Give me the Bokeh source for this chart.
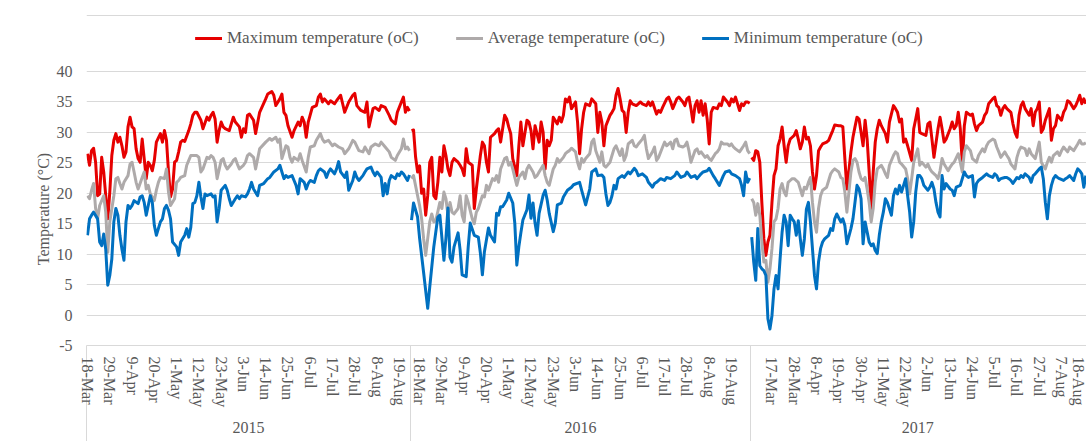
from bokeh.plotting import figure
from bokeh.models import (Range1d, LinearAxis, FixedTicker, Grid, Legend, LegendItem, Span)
from bokeh.embed import file_html
from bokeh.resources import INLINE

# ---------------- data ----------------
YEARS = ["2015", "2016", "2017"]
YEAR_DAYS = [160, 168, 165]          # number of daily records per year (categories)
FIRST_LABEL_DAY = [0, 4, 10]         # day index of the first labelled date in each year
LABEL_STEP = 11
LABELS_2015 = ["18-Mar", "29-Mar", "9-Apr", "20-Apr", "1-May", "12-May", "23-May", "3-Jun",
               "14-Jun", "25-Jun", "6-Jul", "17-Jul", "28-Jul", "8-Aug", "19-Aug"]
LABELS_2016 = ["18-Mar", "29-Mar", "9-Apr", "20-Apr", "1-May", "12-May", "23-May", "3-Jun",
               "14-Jun", "25-Jun", "6-Jul", "17-Jul", "28-Jul", "8-Aug", "19-Aug"]
LABELS_2017 = ["17-Mar", "28-Mar", "8-Apr", "19-Apr", "30-Apr", "11-May", "22-May", "2-Jun",
               "13-Jun", "24-Jun", "5-Jul", "16-Jul", "27-Jul", "7-Aug", "18-Aug"]
Y_TICKS = [-5, 0, 5, 10, 15, 20, 25, 30, 35, 40]

# (day index within the year, temperature)
MAX_2015 = [(0,26.5),(1,24.6),(2,27.0),(3,27.4),(4,25.1),(5,19.6),(6,19.9),(7,25.9),(8,23.5),(9,19.6),(10,15.8),(11,20.2),(12,26.2),(13,28.7),(14,29.8),(15,28.4),(16,29.2),(17,27.8),(18,25.9),(19,26.8),(20,30.9),(21,32.5),(22,30.9),(23,30.6),(24,27.3),(25,25.7),(26,25.1),(27,28.9),(28,25.7),(29,22.4),(30,25.1),(31,24.6),(32,23.7),(33,25.4),(34,28.4),(36,29.8),(37,28.4),(38,30.3),(39,28.7),(40,23.5),(41,19.4),(42,20.7),(43,25.1),(44,25.4),(45,26.8),(46,28.4),(47,28.7),(48,28.5),(50,30.3),(51,31.4),(52,32.8),(53,33.3),(54,33.3),(56,32.0),(57,30.6),(59,32.5),(60,32.0),(61,32.8),(62,33.3),(63,32.2),(64,28.4),(65,30.3),(66,31.7),(67,30.9),(68,30.6),(70,30.3),(71,31.4),(72,32.5),(73,31.7),(75,30.9),(76,29.2),(77,30.6),(78,30.0),(79,32.8),(80,33.0),(82,32.0),(83,29.8),(85,33.3),(88,35.5),(89,36.3),(91,36.7),(92,36.1),(93,34.4),(95,35.5),(96,36.3),(97,33.3),(98,32.8),(99,31.1),(101,29.2),(102,30.3),(104,31.7),(105,31.1),(106,32.5),(107,31.7),(108,29.2),(109,31.7),(111,34.1),(113,34.4),(114,35.8),(115,36.3),(116,35.0),(117,35.5),(119,34.7),(120,35.2),(122,34.7),(123,35.2),(125,36.1),(126,34.7),(127,33.3),(129,35.0),(131,36.1),(132,36.4),(133,34.4),(135,33.6),(137,33.3),(138,35.0),(139,30.9),(141,33.9),(142,34.1),(144,33.6),(145,34.4),(147,34.1),(149,32.8),(150,32.0),(152,31.4),(153,33.3),(155,35.0),(156,35.8),(157,33.3),(158,34.1),(159,33.5)]
AVG_2015 = [(0,19.6),(1,19.1),(2,20.5),(3,21.6),(4,17.5),(5,15.8),(6,18.0),(8,19.6),(9,16.9),(10,10.3),(11,15.3),(13,19.6),(14,22.4),(15,22.6),(16,21.6),(17,20.7),(18,21.8),(20,22.9),(21,24.8),(22,25.1),(23,23.5),(24,21.8),(25,20.7),(27,22.6),(28,23.5),(29,20.7),(30,21.3),(31,19.9),(33,18.8),(34,20.5),(35,21.8),(36,22.6),(38,22.4),(39,24.0),(40,20.2),(41,18.0),(43,19.1),(44,21.8),(45,22.1),(46,22.6),(48,22.9),(49,24.6),(50,25.4),(51,26.2),(53,26.2),(54,26.2),(55,25.9),(56,23.5),(57,24.0),(59,25.9),(60,25.7),(61,26.2),(62,25.9),(63,25.1),(64,22.4),(66,25.4),(67,25.7),(68,24.6),(69,24.0),(71,24.8),(72,25.4),(73,25.7),(74,24.8),(75,24.0),(77,24.6),(78,25.1),(79,26.2),(80,26.5),(82,25.9),(83,24.0),(85,27.3),(88,28.4),(90,29.0),(91,28.7),(93,29.2),(94,28.4),(95,28.9),(96,25.7),(98,27.8),(99,27.6),(100,25.9),(101,25.1),(102,25.9),(104,25.4),(105,26.5),(106,25.4),(108,23.5),(109,25.9),(110,27.6),(112,27.8),(113,28.7),(115,29.8),(116,28.9),(117,28.4),(119,28.7),(121,27.8),(122,28.1),(124,27.6),(126,27.3),(127,26.5),(129,27.3),(131,28.7),(132,28.4),(134,27.0),(136,26.8),(137,27.6),(139,26.5),(140,27.6),(142,28.1),(144,27.8),(145,28.4),(147,27.6),(149,26.8),(150,25.9),(152,25.4),(153,26.2),(155,27.3),(156,28.9),(157,27.3),(158,27.6),(159,27.0)]
MIN_2015 = [(0,13.1),(1,15.8),(2,16.4),(3,16.9),(5,15.8),(6,12.0),(7,11.4),(8,13.3),(9,10.8),(10,4.9),(11,6.5),(12,9.2),(13,15.3),(14,17.5),(15,16.4),(16,13.1),(17,10.8),(18,9.0),(19,15.3),(20,18.0),(21,17.5),(22,18.0),(23,18.8),(25,18.3),(26,19.4),(27,19.6),(28,18.5),(29,16.4),(31,19.6),(32,18.5),(33,14.7),(34,13.1),(36,15.3),(37,15.8),(38,17.5),(39,18.0),(40,17.2),(41,15.8),(42,12.0),(44,11.2),(45,9.8),(46,12.0),(48,13.1),(49,14.2),(50,12.8),(51,14.4),(52,18.3),(53,18.5),(54,19.6),(55,21.8),(56,19.4),(57,17.5),(58,19.9),(59,19.6),(61,19.9),(62,19.4),(63,19.6),(64,15.3),(65,17.5),(66,20.5),(68,21.3),(69,20.5),(70,19.1),(71,18.0),(73,19.1),(74,19.6),(75,19.1),(76,19.6),(78,19.4),(79,19.9),(80,20.7),(81,21.8),(82,20.7),(84,19.6),(85,21.3),(87,21.6),(89,22.4),(90,22.6),(92,23.5),(94,24.0),(95,24.6),(96,23.5),(97,22.4),(98,22.9),(99,22.6),(101,22.9),(102,22.1),(103,21.3),(104,19.9),(105,22.4),(107,21.8),(108,20.7),(109,21.6),(110,22.1),(112,21.8),(113,22.9),(114,23.7),(115,24.0),(117,23.5),(118,22.6),(119,23.5),(120,24.0),(122,23.2),(123,24.0),(124,25.2),(125,23.5),(127,22.6),(128,23.5),(129,20.5),(131,22.1),(132,23.5),(133,22.6),(134,22.1),(136,22.9),(137,23.5),(138,24.0),(140,24.3),(141,23.5),(142,22.9),(143,23.5),(145,22.6),(146,19.6),(147,21.6),(148,19.9),(149,22.1),(150,22.9),(152,22.4),(153,23.2),(154,22.9),(155,23.5),(156,23.2),(158,22.1),(159,23.0)]

MAX_2016 = [(0,30.3),(1,30.4),(2,26.0),(3,23.5),(4,24.5),(5,20.0),(6,20.7),(7,16.4),(8,19.6),(9,25.1),(10,25.9),(11,19.6),(12,19.1),(13,21.8),(14,25.9),(15,23.5),(16,27.8),(17,26.2),(18,24.0),(19,22.9),(20,25.1),(21,25.7),(23,25.1),(24,24.6),(25,24.0),(26,22.9),(27,27.3),(28,25.1),(30,24.6),(31,17.5),(32,20.7),(33,23.5),(34,26.2),(35,28.4),(36,27.8),(37,25.1),(38,23.5),(39,29.2),(41,29.8),(42,30.3),(43,30.6),(44,28.4),(46,32.8),(47,32.2),(48,30.9),(49,29.8),(50,25.7),(52,22.9),(53,27.8),(54,31.7),(55,27.8),(57,32.0),(58,31.7),(59,30.3),(60,27.3),(61,31.1),(63,28.4),(64,31.7),(65,30.0),(66,24.0),(67,28.7),(68,27.8),(69,28.7),(70,32.5),(72,31.4),(73,32.5),(74,31.7),(75,32.8),(76,35.5),(77,35.0),(78,35.8),(79,33.9),(81,35.0),(82,31.7),(83,26.5),(84,30.6),(85,33.3),(86,34.7),(88,34.4),(89,35.5),(91,34.7),(92,30.0),(93,33.3),(94,31.7),(95,27.8),(96,31.1),(98,32.8),(99,33.3),(100,33.9),(101,36.1),(102,37.2),(103,35.5),(104,33.6),(105,33.3),(106,30.0),(107,33.3),(108,35.2),(109,34.7),(111,34.4),(112,34.7),(113,35.0),(114,34.7),(116,34.4),(117,35.0),(118,34.4),(119,35.0),(121,33.0),(122,33.6),(123,33.3),(124,34.1),(126,35.5),(127,35.8),(128,35.0),(129,33.9),(131,35.5),(132,35.8),(134,35.0),(135,34.4),(136,35.5),(137,35.8),(138,33.9),(139,31.7),(140,34.4),(141,35.2),(142,33.3),(143,35.2),(144,32.8),(145,34.7),(146,32.2),(147,28.1),(148,33.3),(149,34.1),(151,33.9),(152,34.7),(153,34.4),(154,35.8),(156,35.0),(157,34.4),(158,35.5),(159,35.0),(160,35.8),(162,33.6),(163,34.7),(164,34.4),(165,35.0),(166,35.0),(167,34.8)]
AVG_2016 = [(0,22.4),(1,22.9),(3,19.6),(4,18.0),(5,15.8),(6,12.5),(7,9.8),(9,15.3),(10,16.6),(11,15.3),(12,15.5),(14,18.5),(15,17.5),(16,20.2),(17,19.1),(18,16.4),(19,18.5),(20,16.9),(21,16.6),(23,17.5),(24,19.6),(25,16.4),(26,15.3),(27,19.6),(28,18.5),(30,15.8),(31,15.0),(32,16.9),(33,17.5),(35,19.6),(36,19.4),(37,21.3),(38,20.5),(40,22.4),(41,22.1),(42,22.9),(43,21.8),(44,24.0),(46,25.7),(47,25.9),(48,24.6),(49,25.1),(50,24.0),(51,22.6),(52,21.3),(53,22.6),(55,23.5),(56,22.4),(57,24.0),(58,24.6),(60,23.5),(61,22.6),(62,22.9),(63,23.5),(65,24.6),(66,22.9),(67,21.8),(68,21.3),(70,24.0),(71,24.6),(72,25.7),(73,25.1),(75,25.9),(76,26.5),(77,26.8),(78,27.0),(79,27.4),(81,26.8),(82,25.1),(83,24.0),(84,25.7),(85,25.1),(86,25.7),(88,26.5),(89,28.4),(90,28.9),(91,27.0),(93,25.1),(94,26.8),(95,24.6),(96,24.3),(98,25.1),(99,26.2),(100,27.3),(101,27.8),(103,26.2),(104,27.3),(105,25.4),(106,26.2),(107,28.1),(109,28.7),(110,27.8),(111,27.6),(112,28.1),(114,28.9),(115,29.5),(116,27.3),(117,25.7),(119,26.8),(120,27.6),(121,25.4),(122,25.9),(124,27.6),(125,28.4),(126,27.8),(128,28.4),(129,27.3),(130,28.7),(131,28.9),(132,27.8),(134,27.6),(135,27.8),(136,28.4),(137,27.0),(138,25.1),(140,27.0),(141,27.3),(142,26.5),(143,26.8),(145,25.9),(146,26.2),(147,25.7),(148,25.4),(150,26.5),(151,26.8),(152,27.3),(153,28.4),(154,28.1),(156,28.1),(157,27.8),(158,28.1),(159,27.6),(160,27.3),(162,26.8),(163,27.3),(164,27.8),(165,28.4),(166,27.0),(167,26.5)]
MIN_2016 = [(0,15.6),(1,18.4),(3,16.1),(4,12.6),(6,6.9),(8,1.1),(9,4.6),(11,11.2),(13,16.1),(14,16.4),(16,9.0),(17,12.6),(18,17.6),(19,9.5),(20,8.7),(21,11.2),(23,13.5),(24,10.7),(25,6.6),(27,6.3),(28,11.2),(29,15.1),(31,13.1),(33,12.8),(34,10.2),(35,6.6),(36,10.4),(38,14.3),(39,13.1),(41,12.0),(42,16.7),(43,16.4),(44,17.8),(45,17.8),(47,18.9),(48,20.0),(50,18.4),(51,15.1),(52,8.2),(53,11.2),(54,13.5),(55,15.6),(57,17.3),(58,19.7),(59,15.9),(60,18.4),(61,15.1),(62,13.1),(63,16.7),(65,19.7),(66,20.5),(67,18.9),(68,16.7),(70,13.7),(71,15.1),(72,18.1),(74,18.4),(75,19.4),(77,20.5),(79,21.0),(80,21.4),(83,21.8),(84,20.5),(86,18.1),(88,20.7),(89,23.5),(91,24.0),(92,22.9),(94,23.0),(95,22.6),(96,19.9),(97,18.0),(98,18.5),(99,19.6),(100,21.3),(101,20.7),(102,22.4),(104,22.9),(105,22.6),(107,23.5),(108,23.2),(110,24.1),(111,23.7),(112,22.9),(114,23.2),(116,22.6),(117,21.8),(119,21.0),(120,21.6),(121,21.8),(123,22.4),(125,22.1),(126,22.6),(128,22.4),(130,22.9),(131,23.5),(133,22.6),(135,22.9),(136,23.5),(138,22.6),(140,22.9),(141,22.4),(143,23.2),(144,23.5),(146,23.7),(147,24.1),(149,22.9),(150,22.4),(152,21.3),(154,22.9),(155,23.5),(157,23.7),(158,23.2),(160,22.9),(162,22.4),(163,21.3),(164,19.6),(165,23.5),(166,21.8),(167,22.5)]

MAX_2017 = [(0,25.9),(1,25.4),(2,27.0),(3,26.8),(4,25.1),(5,18.5),(6,12.5),(7,9.8),(8,12.0),(9,13.1),(10,18.5),(11,22.9),(12,24.0),(13,27.8),(14,28.9),(15,30.9),(16,27.8),(17,25.1),(18,27.8),(19,28.9),(20,29.2),(21,29.5),(22,30.3),(23,28.9),(24,27.3),(25,28.4),(26,30.9),(27,28.9),(28,29.2),(29,27.8),(30,23.5),(31,20.7),(32,22.9),(33,27.0),(34,27.6),(35,28.1),(37,28.4),(38,28.7),(39,29.5),(40,30.3),(41,31.2),(43,31.1),(44,31.1),(45,30.9),(46,25.7),(47,20.7),(49,26.8),(50,29.2),(51,30.9),(52,32.5),(53,32.2),(54,30.0),(55,27.8),(56,32.0),(57,28.9),(58,23.5),(59,17.5),(60,23.5),(61,28.4),(62,30.6),(63,32.0),(64,31.1),(66,29.8),(67,28.4),(68,31.7),(70,34.4),(71,33.9),(72,33.3),(73,31.7),(74,32.2),(75,28.4),(76,28.9),(77,27.8),(79,25.4),(80,30.6),(81,32.2),(82,33.9),(83,30.0),(84,29.8),(86,29.5),(87,31.4),(88,31.7),(89,28.9),(90,25.9),(92,30.6),(93,32.5),(94,30.6),(95,28.4),(96,28.9),(98,30.6),(99,31.7),(100,30.6),(101,31.1),(102,33.3),(103,30.6),(104,24.8),(105,31.1),(106,33.3),(108,32.8),(109,33.0),(110,31.4),(111,30.3),(112,31.1),(114,31.7),(115,32.8),(116,33.3),(117,34.7),(119,35.5),(120,35.8),(121,34.4),(122,34.1),(123,32.8),(124,33.9),(125,34.4),(126,33.9),(128,33.3),(129,31.4),(130,30.0),(131,29.2),(132,32.8),(133,34.4),(134,35.0),(135,33.9),(137,32.8),(138,33.9),(139,31.1),(140,33.3),(141,33.9),(142,35.0),(143,30.0),(144,30.6),(145,32.0),(147,33.9),(148,28.7),(149,30.6),(150,31.1),(151,32.8),(153,32.0),(154,33.3),(155,33.9),(156,35.2),(157,35.0),(159,33.9),(160,34.4),(161,35.2),(162,36.1),(163,34.7),(164,35.5),(165,34.7)]
AVG_2017 = [(0,19.1),(1,18.5),(2,16.4),(3,18.3),(4,16.4),(5,12.0),(6,8.7),(7,9.0),(8,5.4),(9,7.6),(10,10.9),(11,15.3),(12,15.8),(13,17.5),(14,20.7),(15,21.6),(16,20.2),(17,19.6),(18,21.8),(19,22.1),(20,22.4),(21,22.4),(23,21.8),(24,20.7),(25,19.6),(26,21.0),(27,20.7),(28,21.8),(29,22.6),(30,18.5),(31,15.3),(32,13.6),(33,17.5),(34,19.6),(35,20.5),(37,21.0),(38,22.1),(39,23.2),(40,23.7),(41,24.0),(43,23.5),(44,22.6),(45,22.4),(46,20.2),(47,16.9),(49,23.5),(50,25.4),(51,25.7),(52,25.1),(53,23.5),(54,22.4),(55,22.1),(56,22.6),(57,20.7),(58,18.5),(59,15.3),(60,17.5),(61,21.8),(62,24.0),(64,24.6),(65,24.0),(66,23.2),(67,22.6),(68,24.6),(70,26.2),(71,26.8),(72,26.5),(73,25.1),(74,24.8),(76,24.0),(77,22.4),(78,19.9),(79,22.4),(80,25.1),(81,26.2),(82,27.3),(83,24.6),(84,25.1),(86,24.3),(87,24.8),(88,24.0),(89,23.5),(91,22.9),(92,22.4),(93,23.7),(94,25.7),(95,24.8),(97,23.7),(98,24.3),(99,24.8),(100,25.1),(102,26.5),(103,25.1),(104,23.5),(105,26.8),(106,27.8),(108,27.0),(109,25.7),(110,25.4),(111,25.1),(112,26.2),(114,27.3),(115,26.8),(116,27.8),(117,28.4),(119,28.9),(120,28.7),(121,27.6),(122,26.8),(123,25.9),(125,26.8),(126,26.2),(127,25.7),(128,24.8),(130,24.0),(131,25.9),(132,27.0),(133,27.6),(135,27.3),(136,26.2),(137,27.3),(138,26.5),(140,25.7),(141,27.0),(142,28.4),(143,25.1),(145,24.0),(146,25.1),(147,25.9),(148,25.1),(149,26.2),(151,26.8),(152,26.2),(153,27.0),(154,27.6),(156,26.8),(157,27.6),(158,27.3),(159,27.0),(161,28.1),(162,28.7),(163,28.1),(164,28.1),(165,28.3)]
MIN_2017 = [(0,12.8),(1,8.7),(2,5.7),(3,14.2),(4,8.1),(5,7.6),(6,7.3),(7,6.5),(8,-0.6),(9,-2.3),(10,-0.1),(11,4.3),(12,6.5),(13,4.3),(14,9.2),(15,13.6),(16,16.4),(17,15.3),(18,11.4),(19,16.4),(20,15.8),(21,15.3),(22,13.1),(23,15.5),(24,12.5),(25,9.8),(26,12.5),(27,17.4),(28,18.5),(29,15.3),(30,10.9),(31,6.5),(32,4.3),(33,8.7),(34,10.9),(35,12.0),(36,12.5),(38,13.1),(39,14.2),(40,13.9),(41,15.8),(42,16.6),(44,15.3),(45,15.8),(46,14.7),(47,11.7),(49,14.2),(50,15.8),(51,18.5),(52,21.3),(53,20.7),(54,19.1),(55,11.7),(56,15.3),(58,12.0),(59,11.4),(60,11.7),(61,10.6),(62,10.1),(63,13.1),(64,15.3),(65,16.9),(66,19.1),(67,18.5),(69,16.4),(70,19.6),(71,20.7),(72,19.9),(73,21.3),(74,20.2),(76,22.4),(77,19.6),(78,16.9),(79,12.8),(80,15.3),(81,20.2),(82,22.9),(83,22.9),(84,22.4),(85,21.3),(87,20.5),(88,21.0),(89,21.8),(90,20.7),(91,18.5),(92,16.9),(93,16.1),(94,22.9),(95,20.7),(96,21.6),(98,20.7),(99,20.5),(100,19.6),(101,21.0),(103,21.3),(104,22.4),(105,23.5),(106,22.9),(107,22.6),(109,22.9),(110,19.4),(111,21.6),(112,22.1),(114,22.6),(115,22.9),(116,23.2),(117,22.9),(119,22.6),(120,23.2),(121,22.9),(122,22.1),(123,22.4),(125,22.6),(126,22.6),(127,22.4),(128,22.1),(129,21.6),(131,22.6),(132,22.4),(133,22.9),(134,22.6),(135,23.2),(137,22.6),(138,21.8),(139,22.9),(140,23.2),(142,24.0),(143,24.3),(144,22.4),(145,18.5),(146,15.8),(147,19.6),(148,21.3),(149,22.4),(150,22.9),(151,22.6),(152,22.4),(154,22.1),(155,22.4),(156,22.6),(157,22.9),(159,22.1),(160,23.2),(161,24.0),(162,23.7),(163,23.2),(164,21.0),(165,22.9)]

SERIES = [
    ("Maximum temperature (oC)", "#E60000", [MAX_2015, MAX_2016, MAX_2017]),
    ("Average temperature (oC)", "#AEAAAA", [AVG_2015, AVG_2016, AVG_2017]),
    ("Minimum temperature (oC)", "#0070C0", [MIN_2015, MIN_2016, MIN_2017]),
]
YEAR_LABELS = [LABELS_2015, LABELS_2016, LABELS_2017]

# ---------------- styling / geometry ----------------
FONT = "Liberation Serif"
TXT = "#595959"
GRID = "#D9D9D9"
W, H = 1086, 441
LEFT, BOTTOM = 86, 96            # plot-area borders in pixels
GRID_TOP = 71                    # pixel row of the 40 gridline
FRAME_H = H - BOTTOM             # frame reaches the top of the canvas (holds the legend)
PX_PER_UNIT = (H - BOTTOM - GRID_TOP) / 45.0
Y_END = 40 + GRID_TOP / PX_PER_UNIT
PX_PER_DAY = 2.025

# approximate glyph widths (em) of the serif face, used to centre rotated labels
CHAR_EM = {"0": .5, "1": .5, "2": .5, "3": .5, "4": .5, "5": .5, "6": .5, "7": .5, "8": .5,
           "9": .5, "-": .333, "M": .889, "a": .444, "r": .333, "A": .722, "p": .5, "y": .5,
           "J": .389, "u": .5, "n": .5, "l": .278, "g": .5}


def centred(label, longest):
    w = sum(CHAR_EM.get(c, .5) for c in label)
    pad = int(round((longest - w) / 2 / 0.25))
    return label + "\u00a0" * pad


offsets = [0, YEAR_DAYS[0], YEAR_DAYS[0] + YEAR_DAYS[1]]
x_end = -0.5 + (W - LEFT) / PX_PER_DAY

p = figure(width=W, height=H, output_backend="svg", toolbar_location=None,
           x_range=Range1d(-0.5, x_end), y_range=Range1d(-5, Y_END),
           x_axis_type=None, y_axis_type=None,
           min_border_left=LEFT, min_border_right=0, min_border_top=0,
           min_border_bottom=BOTTOM)
p.outline_line_color = None
p.background_fill_color = "white"
p.border_fill_color = "white"

# y axis; the title is padded so that it sits centred on the -5..40 span
frame_mid = FRAME_H / 2.0
grid_mid = GRID_TOP + (FRAME_H - GRID_TOP) / 2.0
title_pad = int(round(2 * (grid_mid - frame_mid) / 4.0))
yticker = FixedTicker(ticks=Y_TICKS)
yaxis = LinearAxis(ticker=yticker, axis_label="Temperature (°C)" + "\u00a0" * title_pad)
yaxis.major_label_overrides = {-5: "-5"}
yaxis.axis_line_color = None
yaxis.major_tick_line_color = None
yaxis.minor_tick_line_color = None
yaxis.major_tick_out = 0
yaxis.major_tick_in = 0
yaxis.major_label_standoff = 14
yaxis.major_label_text_font = FONT
yaxis.major_label_text_font_size = "16px"
yaxis.major_label_text_color = TXT
yaxis.axis_label_text_font = FONT
yaxis.axis_label_text_font_size = "16px"
yaxis.axis_label_text_font_style = "normal"
yaxis.axis_label_text_color = TXT
yaxis.axis_label_standoff = 2
p.add_layout(yaxis, "left")
p.add_layout(Grid(dimension=1, ticker=yticker, grid_line_color=GRID, grid_line_width=1))

# top edge of the chart area
p.add_layout(Span(location=40 + (GRID_TOP - 15) / PX_PER_UNIT, dimension="width",
                  line_color=GRID, line_width=1))

# date axis (inner level of the category axis)
all_labels = LABELS_2015 + LABELS_2016 + LABELS_2017
longest = max(sum(CHAR_EM.get(c, .5) for c in s) for s in all_labels)
tick_pos, overrides = [], {}
for k in range(3):
    for n, lab in enumerate(YEAR_LABELS[k]):
        pos = offsets[k] + FIRST_LABEL_DAY[k] + LABEL_STEP * n
        tick_pos.append(pos)
        overrides[pos] = centred(lab, longest)
separators = [offsets[k] - 0.5 for k in range(3)]
dax = LinearAxis(ticker=FixedTicker(ticks=tick_pos, minor_ticks=separators))
dax.major_label_overrides = overrides
dax.major_label_orientation = "vertical"
dax.major_tick_line_color = None
dax.major_tick_in = 0
dax.major_tick_out = 0
dax.minor_tick_in = 0
dax.minor_tick_out = BOTTOM
dax.minor_tick_line_color = GRID
dax.axis_line_color = GRID
dax.major_label_standoff = 11 - BOTTOM
dax.major_label_text_font = FONT
dax.major_label_text_font_size = "16px"
dax.major_label_text_color = TXT
p.add_layout(dax, "below")

# year axis (outer level)
centers = [offsets[k] - 0.5 + YEAR_DAYS[k] / 2 for k in range(3)]
yax = LinearAxis(ticker=FixedTicker(ticks=centers, minor_ticks=[]))
yax.major_label_overrides = {c: YEARS[k] for k, c in enumerate(centers)}
yax.axis_line_color = None
yax.major_tick_line_color = None
yax.minor_tick_line_color = None
yax.major_tick_out = 0
yax.major_tick_in = 0
yax.major_label_standoff = 11
yax.major_label_text_font = FONT
yax.major_label_text_font_size = "16px"
yax.major_label_text_color = TXT
p.add_layout(yax, "below")

# lines
items = []
for name, color, years in SERIES:
    rs = []
    for k, pairs in enumerate(years):
        pairs = sorted(pairs)
        xs = [offsets[k] + d for d, _ in pairs]
        ys = [v for _, v in pairs]
        rs.append(p.line(xs, ys, line_color=color, line_width=3, line_join="round"))
    items.append(LegendItem(label=name, renderers=rs))

legend = Legend(items=items, orientation="horizontal", location=(195 - LEFT, FRAME_H - 48),
                padding=0, margin=0, spacing=37, glyph_width=27, glyph_height=20,
                label_standoff=5, label_text_font=FONT, label_text_font_size="17px",
                label_text_color=TXT, border_line_color=None, background_fill_alpha=0)
p.add_layout(legend)

open("out.html", "w").write(file_html(p, INLINE))
